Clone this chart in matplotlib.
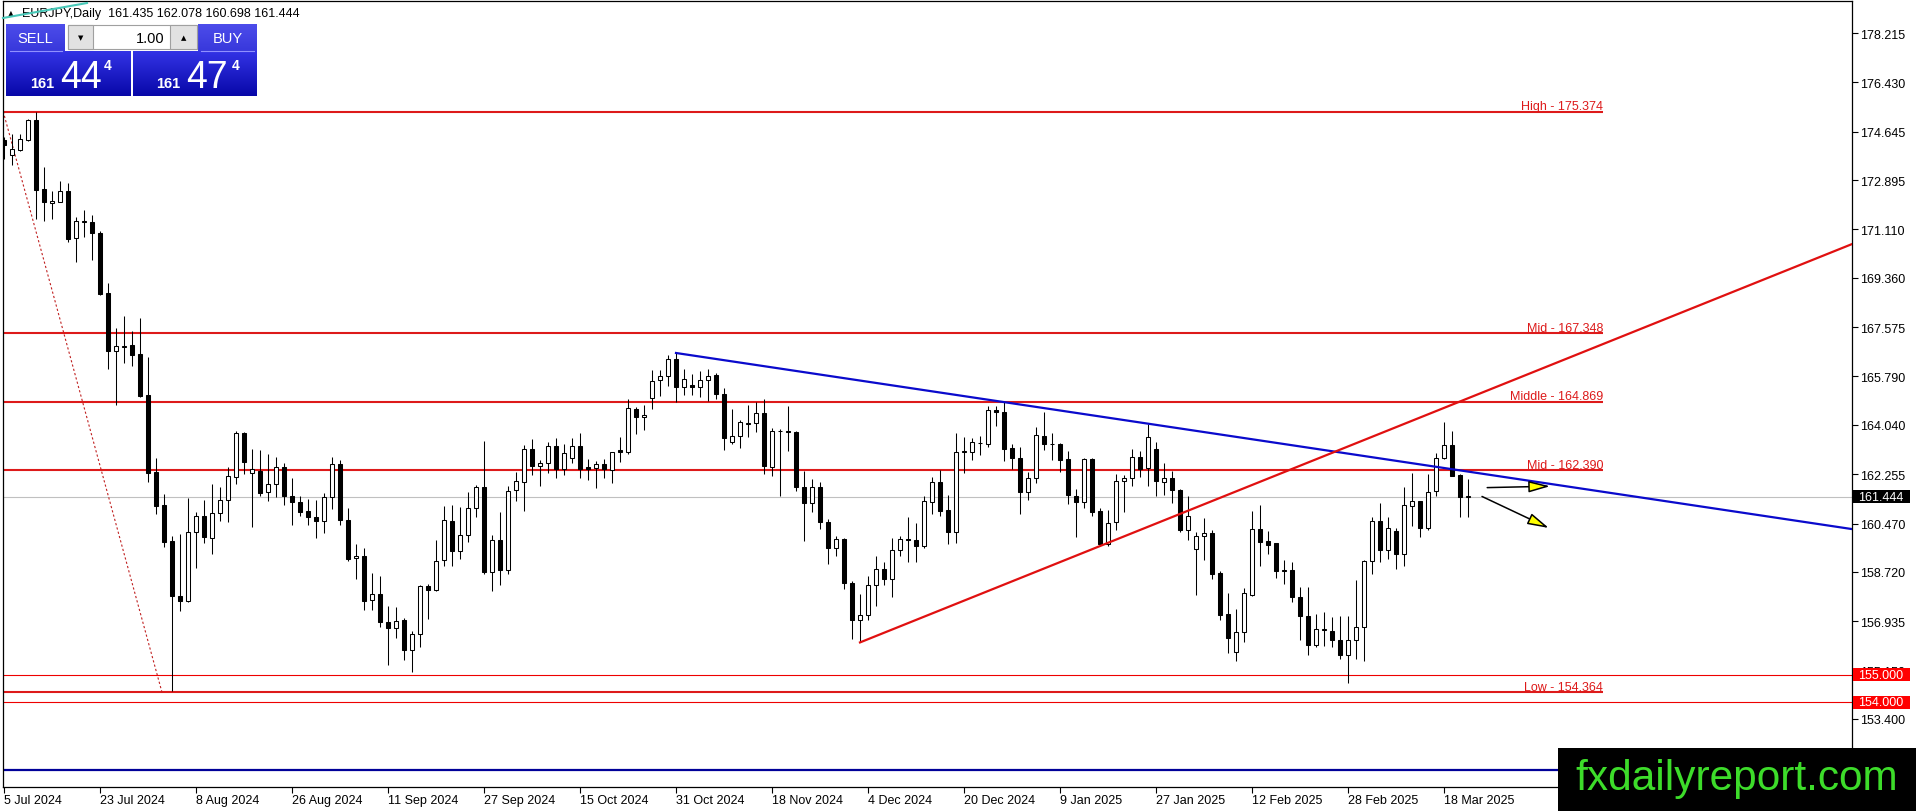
import numpy as np
import matplotlib
matplotlib.use('Agg')
import matplotlib.pyplot as plt
import matplotlib.transforms as mtransforms
from matplotlib.patches import Rectangle
from matplotlib.lines import Line2D

plt.rcParams['font.family'] = ['Liberation Sans', 'DejaVu Sans']

# EURJPY daily candles, 5 Jul 2024 .. 21 Mar 2025
opens = [174.35, 173.80, 173.99, 174.34, 175.07, 172.57, 172.08, 172.11, 172.51, 170.80,
         171.37, 171.37, 170.98, 168.81, 166.72, 166.84, 166.93, 166.60, 165.11, 162.32,
         161.15, 159.85, 157.86, 157.68, 160.15, 160.73, 159.96, 160.85, 161.33, 162.16,
         163.73, 162.29, 162.38, 161.60, 161.90, 162.51, 161.48, 161.26, 160.92, 160.72,
         160.55, 161.43, 162.64, 160.60, 159.22, 159.30, 157.72, 157.92, 156.92, 156.68,
         156.98, 155.90, 156.47, 158.22, 158.08, 159.15, 160.57, 159.49, 160.05, 161.05,
         161.78, 158.70, 159.87, 158.80, 161.68, 161.99, 163.16, 162.56, 162.65, 163.26,
         162.44, 162.84, 163.29, 162.50, 162.48, 162.64, 162.42, 163.12, 163.07, 164.61,
         164.31, 165.00, 165.65, 165.79, 166.42, 165.40, 165.50, 165.40, 165.66, 165.84,
         165.16, 163.43, 163.65, 164.08, 164.10, 164.46, 162.50, 163.80, 163.80, 163.78,
         161.78, 161.20, 161.78, 160.51, 159.60, 159.91, 158.32, 156.97, 157.16, 158.25,
         158.83, 158.47, 159.52, 159.90, 159.88, 159.67, 161.24, 161.96, 160.97, 160.17,
         163.05, 163.07, 163.40, 163.35, 164.59, 164.50, 163.19, 162.83, 161.62, 162.10,
         163.65, 163.35, 163.35, 162.81, 161.48, 161.26, 162.81, 160.93, 159.73, 160.51,
         162.02, 162.11, 162.86, 162.48, 163.17, 161.99, 162.11, 161.69, 160.25, 159.54,
         160.02, 160.13, 158.68, 157.20, 155.81, 156.56, 157.89, 160.28, 159.84, 159.76,
         158.76, 158.79, 157.80, 157.11, 156.07, 156.62, 156.60, 156.24, 155.70, 156.24,
         156.71, 159.11, 160.56, 159.53, 160.19, 159.37, 161.12, 161.30, 160.30, 161.66,
         162.83, 163.31, 162.24, 161.435]
highs = [174.45, 174.56, 174.56, 175.10, 175.37, 173.38, 172.49, 172.85, 172.79, 171.55,
         171.81, 171.63, 171.06, 169.17, 167.54, 167.99, 167.45, 167.89, 166.48, 162.84,
         161.54, 160.03, 160.10, 161.38, 160.88, 161.32, 161.90, 161.78, 162.50, 163.83,
         163.79, 163.17, 163.13, 162.98, 162.87, 162.66, 162.11, 161.45, 161.35, 161.31,
         161.57, 162.86, 162.76, 161.03, 159.73, 159.58, 158.68, 158.57, 157.50, 157.44,
         157.04, 156.59, 158.24, 158.30, 159.89, 161.12, 161.14, 161.06, 161.60, 161.86,
         163.45, 160.05, 160.87, 161.84, 162.35, 163.32, 163.53, 162.77, 163.41, 163.55,
         163.33, 163.55, 163.73, 162.82, 162.73, 162.82, 163.07, 163.59, 164.98, 164.70,
         164.76, 166.02, 166.03, 166.57, 166.64, 166.06, 165.88, 166.00, 166.06, 165.90,
         165.36, 164.61, 164.22, 164.76, 164.88, 164.98, 163.92, 163.89, 164.74, 163.83,
         162.38, 162.08, 161.96, 160.63, 160.03, 159.93, 158.40, 157.92, 158.58, 159.31,
         159.07, 159.93, 160.01, 160.70, 160.49, 161.48, 162.14, 162.39, 161.50, 163.73,
         163.59, 163.55, 163.62, 164.71, 164.74, 164.87, 163.35, 163.23, 162.33, 163.95,
         164.51, 163.74, 163.38, 163.11, 161.72, 162.83, 162.83, 161.02, 160.97, 162.26,
         162.22, 163.17, 163.11, 164.07, 163.41, 162.66, 162.38, 161.72, 161.48, 160.15,
         160.66, 160.25, 158.76, 157.96, 157.38, 158.13, 160.94, 161.14, 160.19, 159.77,
         159.15, 159.09, 158.17, 158.17, 157.20, 157.27, 157.09, 157.14, 157.12, 158.41,
         159.15, 160.70, 161.21, 160.70, 160.30, 161.78, 162.30, 161.30, 162.26, 163.02,
         164.15, 163.83, 162.25, 162.078]
lows = [173.65, 173.45, 173.96, 174.32, 171.49, 171.40, 171.49, 172.09, 170.64, 169.92,
        170.85, 170.02, 168.74, 166.06, 164.77, 166.28, 166.18, 165.03, 161.96, 160.81,
        159.61, 154.40, 157.30, 157.64, 158.86, 159.75, 159.37, 160.57, 160.53, 161.90,
        162.26, 160.33, 161.47, 161.28, 161.42, 161.15, 160.42, 160.75, 160.42, 159.93,
        160.14, 160.99, 160.43, 159.12, 158.48, 157.36, 157.36, 156.72, 155.37, 156.33,
        155.53, 155.09, 155.99, 157.02, 158.04, 158.94, 158.95, 159.17, 159.82, 160.70,
        158.65, 158.04, 158.26, 158.64, 161.30, 160.93, 162.22, 161.84, 162.30, 162.12,
        162.22, 162.66, 162.12, 162.05, 161.76, 162.12, 161.94, 162.71, 163.00, 163.71,
        163.87, 164.61, 165.10, 165.43, 164.88, 165.13, 165.13, 165.03, 164.92, 164.98,
        163.14, 163.33, 163.19, 163.59, 163.77, 162.26, 162.20, 161.45, 163.11, 161.66,
        159.85, 160.88, 160.27, 159.00, 159.30, 158.10, 156.30, 156.17, 156.97, 157.50,
        158.25, 157.80, 159.30, 159.07, 159.07, 159.57, 160.82, 160.73, 159.73, 159.78,
        162.30, 162.78, 162.95, 163.23, 163.99, 162.74, 162.44, 160.82, 161.33, 161.93,
        163.14, 162.78, 162.33, 161.18, 159.97, 161.02, 160.73, 159.67, 159.65, 160.25,
        160.90, 161.82, 162.14, 161.84, 161.48, 161.51, 161.23, 160.15, 159.88, 157.90,
        159.16, 158.47, 156.97, 155.79, 155.51, 156.20, 157.84, 158.94, 159.37, 158.49,
        158.28, 157.65, 156.24, 155.72, 155.99, 156.05, 155.99, 155.58, 154.70, 155.58,
        155.51, 158.66, 159.07, 159.19, 158.83, 158.92, 160.39, 159.97, 160.25, 161.48,
        162.80, 162.18, 160.70, 160.698]
closes = [174.15, 174.02, 174.38, 175.07, 172.54, 172.09, 172.12, 172.51, 170.76, 171.43,
          171.41, 170.97, 168.77, 166.72, 166.88, 166.88, 166.58, 165.07, 162.29, 161.11,
          159.81, 157.84, 157.68, 160.15, 160.73, 159.99, 160.85, 161.33, 162.18, 163.73,
          162.71, 162.44, 161.59, 161.90, 162.51, 161.48, 161.24, 160.90, 160.70, 160.55,
          161.43, 162.64, 160.59, 159.20, 159.30, 157.68, 157.92, 156.90, 156.68, 156.95,
          155.90, 156.47, 158.22, 158.08, 159.13, 160.60, 159.49, 160.05, 161.05, 161.78,
          158.70, 159.87, 158.80, 161.66, 162.02, 163.16, 162.56, 162.67, 163.26, 162.44,
          163.03, 163.29, 162.45, 162.44, 162.64, 162.46, 163.05, 163.07, 164.64, 164.31,
          164.40, 165.64, 165.79, 166.42, 165.40, 165.70, 165.40, 165.66, 165.81, 165.16,
          163.55, 163.65, 164.13, 164.12, 164.46, 162.54, 163.83, 163.83, 163.78, 161.78,
          161.20, 161.78, 160.51, 159.60, 159.91, 158.32, 156.97, 157.16, 158.25, 158.83,
          158.47, 159.52, 159.91, 159.88, 159.67, 161.30, 161.96, 160.93, 160.17, 163.07,
          163.08, 163.41, 163.38, 164.59, 164.50, 163.17, 162.83, 161.62, 162.10, 163.67,
          163.35, 163.36, 162.78, 161.51, 161.26, 162.81, 160.90, 159.73, 160.49, 162.02,
          162.11, 162.86, 162.44, 163.59, 162.02, 162.11, 161.69, 160.25, 160.73, 160.02,
          160.13, 158.64, 157.16, 156.32, 156.56, 157.96, 160.28, 159.82, 159.70, 158.74,
          158.77, 157.80, 157.11, 156.07, 156.65, 156.64, 156.24, 155.70, 156.24, 156.73,
          159.13, 160.56, 159.53, 160.30, 159.37, 161.14, 161.30, 160.30, 161.62, 162.83,
          163.31, 162.20, 161.42, 161.444]

# one label every 12 bars
date_labels = ['5 Jul 2024', '23 Jul 2024', '8 Aug 2024', '26 Aug 2024', '11 Sep 2024',
               '27 Sep 2024', '15 Oct 2024', '31 Oct 2024', '18 Nov 2024', '4 Dec 2024',
               '20 Dec 2024', '9 Jan 2025', '27 Jan 2025', '12 Feb 2025', '28 Feb 2025',
               '18 Mar 2025']
price_ticks = [178.215, 176.430, 174.645, 172.895, 171.110, 169.360, 167.575, 165.790,
               164.040, 162.255, 160.470, 158.720, 156.935, 155.150, 153.400]

# fibonacci levels and drawn objects
fib_levels = [175.374, 167.348, 164.869, 162.390, 154.364]
fib_names = ['High', 'Mid', 'Middle', 'Mid', 'Low']
fib_start_bar = -0.1
fib_end_bar = 199.9
fib_diag_x = [-0.1, 19.75]
fib_diag_y = [175.374, 154.364]
round_levels = [155.000, 154.000]
last_price = 161.444
bottom_level = 151.54
blue_trend_x = [84, 231]
blue_trend_y = [166.64, 160.27]
red_trend_x = [107, 231]
red_trend_y = [156.17, 170.58]
arrow_starts = [(185.4, 161.77), (184.75, 161.45)]
arrow_ends = [(193.25, 161.82), (193.1, 160.31)]

title_text = 'EURJPY,Daily  161.435 162.078 160.698 161.444'
sell_price = ('161', '44', '4')
buy_price = ('161', '47', '4')
lot_size = '1.00'

W, H = 1916, 812
fig = plt.figure(figsize=(W / 100, H / 100), dpi=100)
fig.patch.set_facecolor('white')

ax_l, ax_r, ax_t, ax_b = 2.7, 1852.0, 2.3, 788.0
ax = fig.add_axes([ax_l / W, (H - ax_b) / H, (ax_r - ax_l) / W, (ax_b - ax_t) / H])
ax.set_facecolor('white')

x = np.arange(len(opens))
o = np.array(opens)
h = np.array(highs)
l = np.array(lows)
c = np.array(closes)
up = c >= o

# candles
ax.vlines(x, l, h, color='black', lw=0.75, zorder=3)
body_h = np.maximum(np.abs(c - o), 0.015)
ax.bar(x, body_h, bottom=np.minimum(o, c), width=0.5,
       color=np.where(up, 'white', 'black'), edgecolor='black', linewidth=0.75, zorder=4)

red = '#dd1a1a'
for lvl, name in zip(fib_levels, fib_names):
    ax.plot([fib_start_bar, fib_end_bar], [lvl, lvl], color=red, lw=1.5,
            solid_capstyle='butt', zorder=2)
    ax.text(fib_end_bar, lvl + 0.09, f'{name} - {lvl:.3f}', ha='right', va='baseline',
            color=red, fontsize=9, zorder=5)
ax.plot(fib_diag_x, fib_diag_y, color='#c02020', lw=0.8, ls=(0, (2, 2)), zorder=2)

for lvl in round_levels:
    ax.axhline(lvl, color='#ee0000', lw=0.8, zorder=2)
ax.axhline(last_price, color='#c0c0c0', lw=0.8, zorder=1)
ax.axhline(bottom_level, color='#000099', lw=1.6, zorder=2)

ax.plot(blue_trend_x, blue_trend_y, color='#0a0acc', lw=1.6, zorder=5)
ax.plot(red_trend_x, red_trend_y, color='#e01010', lw=1.6, zorder=5)

for s, e in zip(arrow_starts, arrow_ends):
    ax.annotate('', xy=e, xytext=s,
                arrowprops=dict(arrowstyle='-|>,head_length=1.3,head_width=0.35',
                                fc='#ffff00', ec='black', lw=1.1, mutation_scale=10,
                                shrinkA=0, shrinkB=0), zorder=6)

ax.set_xlim(-0.1625, 231.0)
ax.set_ylim(150.94, 179.362)

# axes styling
for sp in ax.spines.values():
    sp.set_color('black')
    sp.set_linewidth(0.9)
ax.yaxis.tick_right()
ax.set_yticks(price_ticks)
ax.set_yticklabels([f'{t:.3f}' for t in price_ticks])
ax.tick_params(axis='y', length=4, width=0.8, pad=1.5, labelsize=9, direction='out')
ax.set_xticks(np.arange(len(date_labels)) * 12)
ax.set_xticklabels(date_labels)
for lab in ax.get_xticklabels():
    lab.set_ha('left')
ax.tick_params(axis='x', length=4, width=0.8, pad=1, labelsize=9, direction='out')

# price tags on the right axis
blend = mtransforms.blended_transform_factory(ax.transAxes, ax.transData)
ax_w = ax_r - ax_l
px_per_unit = (ax_b - ax_t) / (179.362 - 150.94)
tag_h = 13 / px_per_unit
for lvl, col in [(155.000, '#ff0000'), (154.000, '#ff0000'), (last_price, 'black')]:
    ax.add_patch(Rectangle(((1853 - ax_l) / ax_w, lvl - tag_h / 2), 57 / ax_w, tag_h,
                           transform=blend, facecolor=col, edgecolor='none',
                           clip_on=False, zorder=6))
    ax.text((1858 - ax_l) / ax_w, lvl, f'{lvl:.3f}', transform=blend, color='white',
            ha='left', va='center', fontsize=9, clip_on=False, zorder=7)

# overlay in pixel coordinates for the panel, header and watermark
ov = fig.add_axes([0, 0, 1, 1], zorder=10)
ov.patch.set_alpha(0)
ov.axis('off')


def grad_rect(x0, y0, x1, y1, c_top, c_bot):
    t = np.linspace(0, 1, 64)[:, None, None]
    img = (1 - t) * np.array(c_top)[None, None, :] + t * np.array(c_bot)[None, None, :]
    ov.imshow(img, extent=(x0, x1, y1, y0), aspect='auto', interpolation='bilinear', zorder=1)


btn_top = (0.30, 0.30, 0.92)
btn_bot = (0.22, 0.22, 0.86)
box_top = (0.20, 0.20, 0.90)
box_bot = (0.03, 0.03, 0.66)
grad_rect(6, 25, 65, 52, btn_top, btn_bot)
grad_rect(198, 25, 257, 52, btn_top, btn_bot)
grad_rect(6, 52, 131, 97, box_top, box_bot)
grad_rect(133, 52, 257, 97, box_top, box_bot)
ov.add_line(Line2D([10, 62], [52, 52], color='#9090ff', lw=0.8, zorder=2))
ov.add_line(Line2D([201, 254], [52, 52], color='#9090ff', lw=0.8, zorder=2))

# lot spinner
ov.add_patch(Rectangle((68, 26), 129, 24, facecolor='white', edgecolor='#a0a0a0', lw=0.8, zorder=2))
ov.add_patch(Rectangle((68, 26), 25, 24, facecolor='#e2e2e2', edgecolor='#a0a0a0', lw=0.8, zorder=3))
ov.add_patch(Rectangle((170, 26), 27, 24, facecolor='#e2e2e2', edgecolor='#a0a0a0', lw=0.8, zorder=3))
ov.text(80.5, 38, '\u25bc', ha='center', va='center', fontsize=5, color='black', zorder=4,
        family=['DejaVu Sans'])
ov.text(183.5, 38, '\u25b2', ha='center', va='center', fontsize=5, color='black', zorder=4,
        family=['DejaVu Sans'])
ov.text(165, 43, lot_size, ha='right', va='baseline', fontsize=10.5, color='black', zorder=4)

ov.text(35.5, 43, 'SELL', ha='center', va='baseline', fontsize=10.5, color='white', zorder=4)
ov.text(227.5, 43, 'BUY', ha='center', va='baseline', fontsize=10.5, color='white', zorder=4)
for (big, mid, small), (x_big, x_mid, x_small) in [(sell_price, (30.5, 60, 104)),
                                                    (buy_price, (156.5, 186.5, 231.5))]:
    ov.text(x_big, 87.5, big, ha='left', va='baseline', fontsize=10.5, fontweight='bold',
            color='white', zorder=4)
    ov.text(x_mid, 88.5, mid, ha='left', va='baseline', fontsize=27, color='white', zorder=4)
    ov.text(x_small, 70, small, ha='left', va='baseline', fontsize=10, fontweight='bold',
            color='white', zorder=4)

# header
ov.text(8, 16.5, '\u25b2', ha='left', va='baseline', fontsize=5.5, color='black',
        family=['DejaVu Sans'], zorder=4)
ov.text(22, 16.7, title_text, ha='left', va='baseline', fontsize=9, color='black', zorder=4)
ov.add_line(Line2D([3, 87], [19, 4], color='#48c8b8', lw=1.5, zorder=5))

# watermark
ov.add_patch(Rectangle((1558, 749), W - 1558, H - 749, facecolor='black', edgecolor='none', zorder=6))
ov.text(1575, 790, 'fxdailyreport.com', ha='left', va='baseline', fontsize=30.5,
        color='#3ddc2a', zorder=7)

ov.set_xlim(0, W)
ov.set_ylim(H, 0)

fig.savefig('out.png', dpi=100, facecolor='white')
